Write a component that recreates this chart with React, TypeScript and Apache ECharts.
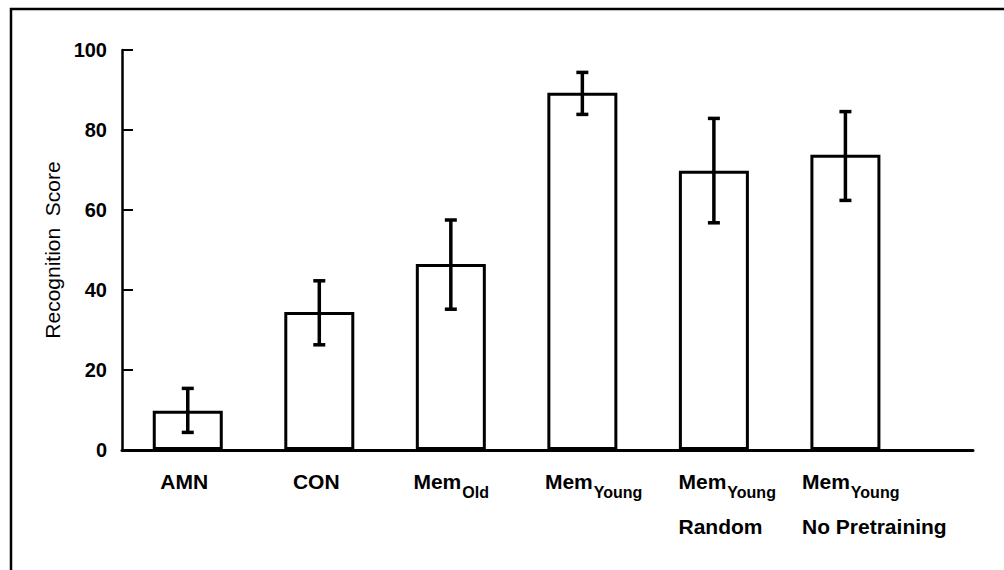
import React, { useEffect, useRef } from 'react';
import * as echarts from 'echarts';

// ---- data ----
const categories = ['AMN', 'CON', 'MemOld', 'MemYoung', 'MemYoungRandom', 'MemYoungNoPretraining'];
const labelMain = ['AMN', 'CON', 'Mem', 'Mem', 'Mem', 'Mem'];
const labelSub = ['', '', 'Old', 'Young', 'Young', 'Young'];
const labelSecond = ['', '', '', '', 'Random', 'No Pretraining'];
const means = [9.8, 34.5, 46.5, 89.3, 69.8, 73.8];
const upper = [15.4, 42.3, 57.5, 94.4, 82.9, 84.6];
const lower = [4.4, 26.3, 35.2, 83.9, 56.8, 62.4];
const yTicks = [0, 20, 40, 60, 80, 100];
const yTitle = 'Recognition  Score';

// ---- layout ----
const FONT = '"Liberation Sans", Arial, Helvetica, sans-serif';
const HALF_BAR = 0.277; // half bar width in axis units
const LABEL_SHIFT = 0.053; // labels start this far (axis units) left of the bar's left edge
const LABEL_INDENT = [16, 17, 6, 6, 8, 0]; // extra px indent per label

export default function App() {
  const ref = useRef<HTMLDivElement>(null);

  useEffect(() => {
    if (!ref.current) return;
    const chart = echarts.init(ref.current, undefined, { renderer: 'svg' });
    const xs = categories.map((_, i) => i + 0.5);

    const rich: any = {
      s: { fontSize: 16, fontWeight: 'bold', fontFamily: FONT, color: '#000', lineHeight: 24, padding: [22, 0, 0, 1], align: 'left' },
    };
    LABEL_INDENT.forEach((ind, i) => {
      rich['m' + i] = {
        fontSize: 21, fontWeight: 'bold', fontFamily: FONT, color: '#000', lineHeight: 24, align: 'left',
        padding: [0, 0, 0, ind],
      };
      rich['r' + i] = {
        fontSize: 21, fontWeight: 'bold', fontFamily: FONT, color: '#000', lineHeight: 66, align: 'left',
        padding: [0, 0, 0, ind],
      };
    });

    const labelFor = (v: number) => {
      const i = Math.round(v + HALF_BAR + LABEL_SHIFT - 0.5);
      if (i < 0 || i >= categories.length) return '';
      let s = `{m${i}|${labelMain[i]}}`;
      if (labelSub[i]) s += `{s|${labelSub[i]}}`;
      if (labelSecond[i]) s += `\n{r${i}|${labelSecond[i]}}`;
      return s;
    };

    const option: any = {
      animation: false,
      backgroundColor: '#ffffff',
      grid: { left: 122, right: 31, top: 50, bottom: 120 },
      xAxis: {
        type: 'value',
        min: 0,
        max: 6.47,
        axisLine: { show: true, onZero: false, lineStyle: { color: '#000', width: 3 } },
        axisTick: { show: false },
        splitLine: { show: false },
        axisLabel: {
          customValues: xs.map((x) => x - HALF_BAR - LABEL_SHIFT),
          align: 'left',
          margin: 19,
          color: '#000',
          formatter: (v: number) => labelFor(v),
          rich,
        },
      },
      yAxis: {
        type: 'value',
        min: yTicks[0],
        max: yTicks[yTicks.length - 1],
        interval: yTicks[1] - yTicks[0],
        name: yTitle,
        nameLocation: 'middle',
        nameRotate: 90,
        nameGap: 56,
        nameTextStyle: { fontSize: 21, fontFamily: FONT, color: '#000' },
        axisLine: { show: true, lineStyle: { color: '#000', width: 2.5 } },
        axisTick: { show: true, inside: true, length: 11, lineStyle: { color: '#000', width: 2 } },
        axisLabel: { fontSize: 20, fontWeight: 'bold', fontFamily: FONT, color: '#000', margin: 15 },
        splitLine: { show: false },
      },
      series: [
        {
          type: 'bar',
          data: xs.map((x, i) => [x, means[i]]),
          barWidth: 70,
          itemStyle: { color: '#ffffff', borderColor: '#000', borderWidth: 3 },
          z: 2,
        },
        {
          type: 'custom',
          data: xs.map((x, i) => [x, lower[i], upper[i]]),
          encode: { x: 0, y: [1, 2] },
          z: 3,
          renderItem: (_params: any, api: any) => {
            const x = api.value(0);
            const pLo = api.coord([x, api.value(1)]);
            const pHi = api.coord([x, api.value(2)]);
            const cap = 6;
            const st = { stroke: '#000', lineWidth: 3.5 };
            return {
              type: 'group',
              children: [
                { type: 'line', shape: { x1: pLo[0], y1: pLo[1], x2: pHi[0], y2: pHi[1] }, style: st },
                { type: 'line', shape: { x1: pHi[0] - cap, y1: pHi[1], x2: pHi[0] + cap, y2: pHi[1] }, style: st },
                { type: 'line', shape: { x1: pLo[0] - cap, y1: pLo[1], x2: pLo[0] + cap, y2: pLo[1] }, style: st },
              ],
            };
          },
        },
      ],
      graphic: [
        {
          type: 'rect',
          silent: true,
          shape: { x: 11, y: 9, width: 1200, height: 800 },
          style: { fill: 'none', stroke: '#000', lineWidth: 2.5 },
        },
      ],
    };

    chart.setOption(option);
    return () => chart.dispose();
  }, []);

  return (
    <div
      ref={ref}
      style={{ position: 'fixed', left: 0, top: 0, width: 1004, height: 570, background: '#fff' }}
    />
  );
}
